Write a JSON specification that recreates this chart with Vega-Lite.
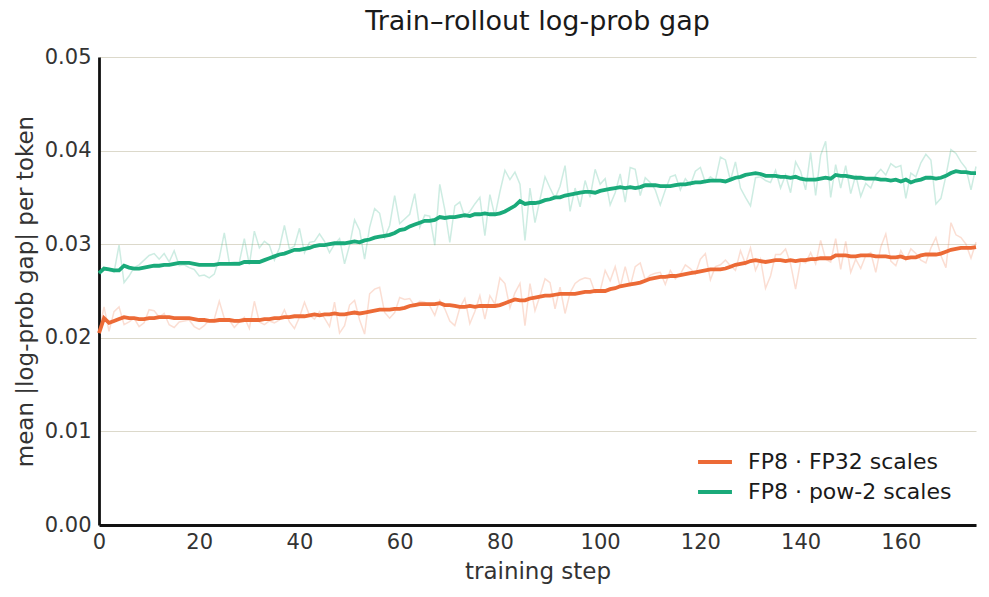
{
  "$schema": "https://vega.github.io/schema/vega-lite/v6.json",
  "description": "Train-rollout log-prob gap, raw and smoothed",
  "autosize": "none",
  "width": 877,
  "height": 468,
  "padding": {"left": 99, "top": 57, "right": 13, "bottom": 72},
  "config": {
    "font": "DejaVu Sans",
    "view": {"stroke": null},
    "axis": {"labelColor": "#333333", "titleColor": "#333333", "titleFontWeight": "normal"}
  },
  "title": {"text": "Train–rollout log-prob gap", "fontSize": 27, "fontWeight": "normal", "color": "#1a1a1a", "offset": 10, "anchor": "middle"},
  "data": {"values": [
    {"step":0,"fp32_raw":0.0206,"fp32_smooth":0.0205,"pow2_raw":0.0268,"pow2_smooth":0.0269},
    {"step":1,"fp32_raw":0.0233,"fp32_smooth":0.0221,"pow2_raw":0.0275,"pow2_smooth":0.0274},
    {"step":2,"fp32_raw":0.0207,"fp32_smooth":0.0216,"pow2_raw":0.0272,"pow2_smooth":0.0273},
    {"step":3,"fp32_raw":0.0228,"fp32_smooth":0.0218,"pow2_raw":0.0270,"pow2_smooth":0.0272},
    {"step":4,"fp32_raw":0.0233,"fp32_smooth":0.0220,"pow2_raw":0.0299,"pow2_smooth":0.0272},
    {"step":5,"fp32_raw":0.0214,"fp32_smooth":0.0222,"pow2_raw":0.0259,"pow2_smooth":0.0277},
    {"step":6,"fp32_raw":0.0217,"fp32_smooth":0.0221,"pow2_raw":0.0266,"pow2_smooth":0.0275},
    {"step":7,"fp32_raw":0.0221,"fp32_smooth":0.0221,"pow2_raw":0.0275,"pow2_smooth":0.0274},
    {"step":8,"fp32_raw":0.0212,"fp32_smooth":0.0220,"pow2_raw":0.0278,"pow2_smooth":0.0274},
    {"step":9,"fp32_raw":0.0216,"fp32_smooth":0.0220,"pow2_raw":0.0283,"pow2_smooth":0.0275},
    {"step":10,"fp32_raw":0.0230,"fp32_smooth":0.0221,"pow2_raw":0.0288,"pow2_smooth":0.0276},
    {"step":11,"fp32_raw":0.0229,"fp32_smooth":0.0221,"pow2_raw":0.0290,"pow2_smooth":0.0277},
    {"step":12,"fp32_raw":0.0222,"fp32_smooth":0.0222,"pow2_raw":0.0284,"pow2_smooth":0.0277},
    {"step":13,"fp32_raw":0.0226,"fp32_smooth":0.0222,"pow2_raw":0.0290,"pow2_smooth":0.0278},
    {"step":14,"fp32_raw":0.0214,"fp32_smooth":0.0222,"pow2_raw":0.0281,"pow2_smooth":0.0278},
    {"step":15,"fp32_raw":0.0211,"fp32_smooth":0.0221,"pow2_raw":0.0293,"pow2_smooth":0.0279},
    {"step":16,"fp32_raw":0.0217,"fp32_smooth":0.0221,"pow2_raw":0.0277,"pow2_smooth":0.0280},
    {"step":17,"fp32_raw":0.0218,"fp32_smooth":0.0221,"pow2_raw":0.0278,"pow2_smooth":0.0280},
    {"step":18,"fp32_raw":0.0219,"fp32_smooth":0.0221,"pow2_raw":0.0275,"pow2_smooth":0.0280},
    {"step":19,"fp32_raw":0.0212,"fp32_smooth":0.0220,"pow2_raw":0.0273,"pow2_smooth":0.0279},
    {"step":20,"fp32_raw":0.0209,"fp32_smooth":0.0219,"pow2_raw":0.0266,"pow2_smooth":0.0278},
    {"step":21,"fp32_raw":0.0213,"fp32_smooth":0.0219,"pow2_raw":0.0267,"pow2_smooth":0.0278},
    {"step":22,"fp32_raw":0.0219,"fp32_smooth":0.0218,"pow2_raw":0.0264,"pow2_smooth":0.0278},
    {"step":23,"fp32_raw":0.0220,"fp32_smooth":0.0218,"pow2_raw":0.0268,"pow2_smooth":0.0278},
    {"step":24,"fp32_raw":0.0239,"fp32_smooth":0.0219,"pow2_raw":0.0285,"pow2_smooth":0.0279},
    {"step":25,"fp32_raw":0.0221,"fp32_smooth":0.0219,"pow2_raw":0.0312,"pow2_smooth":0.0279},
    {"step":26,"fp32_raw":0.0219,"fp32_smooth":0.0219,"pow2_raw":0.0280,"pow2_smooth":0.0279},
    {"step":27,"fp32_raw":0.0211,"fp32_smooth":0.0218,"pow2_raw":0.0281,"pow2_smooth":0.0279},
    {"step":28,"fp32_raw":0.0217,"fp32_smooth":0.0218,"pow2_raw":0.0281,"pow2_smooth":0.0279},
    {"step":29,"fp32_raw":0.0222,"fp32_smooth":0.0219,"pow2_raw":0.0306,"pow2_smooth":0.0281},
    {"step":30,"fp32_raw":0.0210,"fp32_smooth":0.0219,"pow2_raw":0.0278,"pow2_smooth":0.0281},
    {"step":31,"fp32_raw":0.0239,"fp32_smooth":0.0219,"pow2_raw":0.0314,"pow2_smooth":0.0281},
    {"step":32,"fp32_raw":0.0217,"fp32_smooth":0.0219,"pow2_raw":0.0296,"pow2_smooth":0.0281},
    {"step":33,"fp32_raw":0.0214,"fp32_smooth":0.0220,"pow2_raw":0.0303,"pow2_smooth":0.0283},
    {"step":34,"fp32_raw":0.0218,"fp32_smooth":0.0220,"pow2_raw":0.0299,"pow2_smooth":0.0285},
    {"step":35,"fp32_raw":0.0216,"fp32_smooth":0.0221,"pow2_raw":0.0283,"pow2_smooth":0.0287},
    {"step":36,"fp32_raw":0.0219,"fp32_smooth":0.0221,"pow2_raw":0.0296,"pow2_smooth":0.0289},
    {"step":37,"fp32_raw":0.0230,"fp32_smooth":0.0222,"pow2_raw":0.0320,"pow2_smooth":0.0290},
    {"step":38,"fp32_raw":0.0217,"fp32_smooth":0.0222,"pow2_raw":0.0295,"pow2_smooth":0.0292},
    {"step":39,"fp32_raw":0.0210,"fp32_smooth":0.0223,"pow2_raw":0.0298,"pow2_smooth":0.0294},
    {"step":40,"fp32_raw":0.0222,"fp32_smooth":0.0223,"pow2_raw":0.0317,"pow2_smooth":0.0294},
    {"step":41,"fp32_raw":0.0238,"fp32_smooth":0.0223,"pow2_raw":0.0291,"pow2_smooth":0.0295},
    {"step":42,"fp32_raw":0.0224,"fp32_smooth":0.0224,"pow2_raw":0.0302,"pow2_smooth":0.0296},
    {"step":43,"fp32_raw":0.0220,"fp32_smooth":0.0225,"pow2_raw":0.0303,"pow2_smooth":0.0298},
    {"step":44,"fp32_raw":0.0228,"fp32_smooth":0.0224,"pow2_raw":0.0311,"pow2_smooth":0.0299},
    {"step":45,"fp32_raw":0.0221,"fp32_smooth":0.0225,"pow2_raw":0.0303,"pow2_smooth":0.0299},
    {"step":46,"fp32_raw":0.0212,"fp32_smooth":0.0225,"pow2_raw":0.0291,"pow2_smooth":0.0300},
    {"step":47,"fp32_raw":0.0238,"fp32_smooth":0.0226,"pow2_raw":0.0300,"pow2_smooth":0.0301},
    {"step":48,"fp32_raw":0.0205,"fp32_smooth":0.0225,"pow2_raw":0.0306,"pow2_smooth":0.0301},
    {"step":49,"fp32_raw":0.0213,"fp32_smooth":0.0225,"pow2_raw":0.0279,"pow2_smooth":0.0301},
    {"step":50,"fp32_raw":0.0235,"fp32_smooth":0.0226,"pow2_raw":0.0299,"pow2_smooth":0.0302},
    {"step":51,"fp32_raw":0.0240,"fp32_smooth":0.0227,"pow2_raw":0.0326,"pow2_smooth":0.0303},
    {"step":52,"fp32_raw":0.0219,"fp32_smooth":0.0226,"pow2_raw":0.0315,"pow2_smooth":0.0302},
    {"step":53,"fp32_raw":0.0204,"fp32_smooth":0.0227,"pow2_raw":0.0284,"pow2_smooth":0.0304},
    {"step":54,"fp32_raw":0.0247,"fp32_smooth":0.0228,"pow2_raw":0.0318,"pow2_smooth":0.0305},
    {"step":55,"fp32_raw":0.0252,"fp32_smooth":0.0229,"pow2_raw":0.0338,"pow2_smooth":0.0307},
    {"step":56,"fp32_raw":0.0254,"fp32_smooth":0.0230,"pow2_raw":0.0333,"pow2_smooth":0.0308},
    {"step":57,"fp32_raw":0.0227,"fp32_smooth":0.0230,"pow2_raw":0.0307,"pow2_smooth":0.0309},
    {"step":58,"fp32_raw":0.0221,"fp32_smooth":0.0230,"pow2_raw":0.0320,"pow2_smooth":0.0310},
    {"step":59,"fp32_raw":0.0227,"fp32_smooth":0.0231,"pow2_raw":0.0352,"pow2_smooth":0.0312},
    {"step":60,"fp32_raw":0.0243,"fp32_smooth":0.0231,"pow2_raw":0.0322,"pow2_smooth":0.0315},
    {"step":61,"fp32_raw":0.0241,"fp32_smooth":0.0232,"pow2_raw":0.0327,"pow2_smooth":0.0316},
    {"step":62,"fp32_raw":0.0242,"fp32_smooth":0.0234,"pow2_raw":0.0332,"pow2_smooth":0.0319},
    {"step":63,"fp32_raw":0.0234,"fp32_smooth":0.0235,"pow2_raw":0.0354,"pow2_smooth":0.0321},
    {"step":64,"fp32_raw":0.0239,"fp32_smooth":0.0236,"pow2_raw":0.0318,"pow2_smooth":0.0323},
    {"step":65,"fp32_raw":0.0238,"fp32_smooth":0.0236,"pow2_raw":0.0331,"pow2_smooth":0.0325},
    {"step":66,"fp32_raw":0.0234,"fp32_smooth":0.0236,"pow2_raw":0.0330,"pow2_smooth":0.0325},
    {"step":67,"fp32_raw":0.0224,"fp32_smooth":0.0236,"pow2_raw":0.0299,"pow2_smooth":0.0326},
    {"step":68,"fp32_raw":0.0240,"fp32_smooth":0.0237,"pow2_raw":0.0364,"pow2_smooth":0.0329},
    {"step":69,"fp32_raw":0.0231,"fp32_smooth":0.0235,"pow2_raw":0.0337,"pow2_smooth":0.0328},
    {"step":70,"fp32_raw":0.0218,"fp32_smooth":0.0235,"pow2_raw":0.0302,"pow2_smooth":0.0329},
    {"step":71,"fp32_raw":0.0213,"fp32_smooth":0.0234,"pow2_raw":0.0341,"pow2_smooth":0.0329},
    {"step":72,"fp32_raw":0.0232,"fp32_smooth":0.0233,"pow2_raw":0.0345,"pow2_smooth":0.0330},
    {"step":73,"fp32_raw":0.0242,"fp32_smooth":0.0233,"pow2_raw":0.0329,"pow2_smooth":0.0331},
    {"step":74,"fp32_raw":0.0215,"fp32_smooth":0.0234,"pow2_raw":0.0335,"pow2_smooth":0.0330},
    {"step":75,"fp32_raw":0.0228,"fp32_smooth":0.0233,"pow2_raw":0.0343,"pow2_smooth":0.0332},
    {"step":76,"fp32_raw":0.0245,"fp32_smooth":0.0234,"pow2_raw":0.0350,"pow2_smooth":0.0332},
    {"step":77,"fp32_raw":0.0220,"fp32_smooth":0.0234,"pow2_raw":0.0309,"pow2_smooth":0.0333},
    {"step":78,"fp32_raw":0.0245,"fp32_smooth":0.0234,"pow2_raw":0.0353,"pow2_smooth":0.0332},
    {"step":79,"fp32_raw":0.0236,"fp32_smooth":0.0234,"pow2_raw":0.0330,"pow2_smooth":0.0332},
    {"step":80,"fp32_raw":0.0264,"fp32_smooth":0.0235,"pow2_raw":0.0356,"pow2_smooth":0.0333},
    {"step":81,"fp32_raw":0.0258,"fp32_smooth":0.0237,"pow2_raw":0.0379,"pow2_smooth":0.0335},
    {"step":82,"fp32_raw":0.0232,"fp32_smooth":0.0239,"pow2_raw":0.0369,"pow2_smooth":0.0338},
    {"step":83,"fp32_raw":0.0248,"fp32_smooth":0.0241,"pow2_raw":0.0377,"pow2_smooth":0.0341},
    {"step":84,"fp32_raw":0.0258,"fp32_smooth":0.0240,"pow2_raw":0.0364,"pow2_smooth":0.0346},
    {"step":85,"fp32_raw":0.0213,"fp32_smooth":0.0240,"pow2_raw":0.0304,"pow2_smooth":0.0343},
    {"step":86,"fp32_raw":0.0258,"fp32_smooth":0.0242,"pow2_raw":0.0360,"pow2_smooth":0.0344},
    {"step":87,"fp32_raw":0.0229,"fp32_smooth":0.0243,"pow2_raw":0.0323,"pow2_smooth":0.0344},
    {"step":88,"fp32_raw":0.0245,"fp32_smooth":0.0244,"pow2_raw":0.0348,"pow2_smooth":0.0345},
    {"step":89,"fp32_raw":0.0263,"fp32_smooth":0.0245,"pow2_raw":0.0372,"pow2_smooth":0.0347},
    {"step":90,"fp32_raw":0.0259,"fp32_smooth":0.0245,"pow2_raw":0.0360,"pow2_smooth":0.0348},
    {"step":91,"fp32_raw":0.0231,"fp32_smooth":0.0246,"pow2_raw":0.0349,"pow2_smooth":0.0350},
    {"step":92,"fp32_raw":0.0254,"fp32_smooth":0.0247,"pow2_raw":0.0362,"pow2_smooth":0.0350},
    {"step":93,"fp32_raw":0.0226,"fp32_smooth":0.0247,"pow2_raw":0.0384,"pow2_smooth":0.0352},
    {"step":94,"fp32_raw":0.0248,"fp32_smooth":0.0247,"pow2_raw":0.0335,"pow2_smooth":0.0353},
    {"step":95,"fp32_raw":0.0258,"fp32_smooth":0.0247,"pow2_raw":0.0360,"pow2_smooth":0.0354},
    {"step":96,"fp32_raw":0.0262,"fp32_smooth":0.0248,"pow2_raw":0.0340,"pow2_smooth":0.0355},
    {"step":97,"fp32_raw":0.0264,"fp32_smooth":0.0249,"pow2_raw":0.0368,"pow2_smooth":0.0356},
    {"step":98,"fp32_raw":0.0263,"fp32_smooth":0.0249,"pow2_raw":0.0350,"pow2_smooth":0.0356},
    {"step":99,"fp32_raw":0.0248,"fp32_smooth":0.0250,"pow2_raw":0.0380,"pow2_smooth":0.0355},
    {"step":100,"fp32_raw":0.0250,"fp32_smooth":0.0250,"pow2_raw":0.0364,"pow2_smooth":0.0357},
    {"step":101,"fp32_raw":0.0272,"fp32_smooth":0.0250,"pow2_raw":0.0370,"pow2_smooth":0.0358},
    {"step":102,"fp32_raw":0.0261,"fp32_smooth":0.0252,"pow2_raw":0.0342,"pow2_smooth":0.0359},
    {"step":103,"fp32_raw":0.0276,"fp32_smooth":0.0253,"pow2_raw":0.0355,"pow2_smooth":0.0360},
    {"step":104,"fp32_raw":0.0254,"fp32_smooth":0.0255,"pow2_raw":0.0375,"pow2_smooth":0.0361},
    {"step":105,"fp32_raw":0.0276,"fp32_smooth":0.0256,"pow2_raw":0.0345,"pow2_smooth":0.0360},
    {"step":106,"fp32_raw":0.0255,"fp32_smooth":0.0257,"pow2_raw":0.0382,"pow2_smooth":0.0361},
    {"step":107,"fp32_raw":0.0276,"fp32_smooth":0.0258,"pow2_raw":0.0380,"pow2_smooth":0.0360},
    {"step":108,"fp32_raw":0.0280,"fp32_smooth":0.0259,"pow2_raw":0.0352,"pow2_smooth":0.0361},
    {"step":109,"fp32_raw":0.0262,"fp32_smooth":0.0261,"pow2_raw":0.0371,"pow2_smooth":0.0363},
    {"step":110,"fp32_raw":0.0267,"fp32_smooth":0.0263,"pow2_raw":0.0366,"pow2_smooth":0.0363},
    {"step":111,"fp32_raw":0.0269,"fp32_smooth":0.0264,"pow2_raw":0.0358,"pow2_smooth":0.0363},
    {"step":112,"fp32_raw":0.0270,"fp32_smooth":0.0265,"pow2_raw":0.0342,"pow2_smooth":0.0362},
    {"step":113,"fp32_raw":0.0257,"fp32_smooth":0.0265,"pow2_raw":0.0358,"pow2_smooth":0.0362},
    {"step":114,"fp32_raw":0.0272,"fp32_smooth":0.0266,"pow2_raw":0.0372,"pow2_smooth":0.0362},
    {"step":115,"fp32_raw":0.0263,"fp32_smooth":0.0266,"pow2_raw":0.0374,"pow2_smooth":0.0363},
    {"step":116,"fp32_raw":0.0268,"fp32_smooth":0.0267,"pow2_raw":0.0358,"pow2_smooth":0.0364},
    {"step":117,"fp32_raw":0.0278,"fp32_smooth":0.0268,"pow2_raw":0.0370,"pow2_smooth":0.0364},
    {"step":118,"fp32_raw":0.0274,"fp32_smooth":0.0269,"pow2_raw":0.0363,"pow2_smooth":0.0365},
    {"step":119,"fp32_raw":0.0268,"fp32_smooth":0.0270,"pow2_raw":0.0378,"pow2_smooth":0.0366},
    {"step":120,"fp32_raw":0.0284,"fp32_smooth":0.0271,"pow2_raw":0.0382,"pow2_smooth":0.0366},
    {"step":121,"fp32_raw":0.0290,"fp32_smooth":0.0272,"pow2_raw":0.0366,"pow2_smooth":0.0367},
    {"step":122,"fp32_raw":0.0262,"fp32_smooth":0.0273,"pow2_raw":0.0372,"pow2_smooth":0.0368},
    {"step":123,"fp32_raw":0.0276,"fp32_smooth":0.0273,"pow2_raw":0.0368,"pow2_smooth":0.0368},
    {"step":124,"fp32_raw":0.0278,"fp32_smooth":0.0273,"pow2_raw":0.0393,"pow2_smooth":0.0368},
    {"step":125,"fp32_raw":0.0283,"fp32_smooth":0.0274,"pow2_raw":0.0390,"pow2_smooth":0.0367},
    {"step":126,"fp32_raw":0.0277,"fp32_smooth":0.0276,"pow2_raw":0.0368,"pow2_smooth":0.0369},
    {"step":127,"fp32_raw":0.0272,"fp32_smooth":0.0278,"pow2_raw":0.0388,"pow2_smooth":0.0371},
    {"step":128,"fp32_raw":0.0293,"fp32_smooth":0.0279,"pow2_raw":0.0360,"pow2_smooth":0.0372},
    {"step":129,"fp32_raw":0.0279,"fp32_smooth":0.0280,"pow2_raw":0.0350,"pow2_smooth":0.0374},
    {"step":130,"fp32_raw":0.0296,"fp32_smooth":0.0282,"pow2_raw":0.0341,"pow2_smooth":0.0375},
    {"step":131,"fp32_raw":0.0272,"fp32_smooth":0.0283,"pow2_raw":0.0371,"pow2_smooth":0.0376},
    {"step":132,"fp32_raw":0.0284,"fp32_smooth":0.0282,"pow2_raw":0.0372,"pow2_smooth":0.0375},
    {"step":133,"fp32_raw":0.0253,"fp32_smooth":0.0281,"pow2_raw":0.0368,"pow2_smooth":0.0373},
    {"step":134,"fp32_raw":0.0266,"fp32_smooth":0.0282,"pow2_raw":0.0366,"pow2_smooth":0.0373},
    {"step":135,"fp32_raw":0.0289,"fp32_smooth":0.0283,"pow2_raw":0.0379,"pow2_smooth":0.0373},
    {"step":136,"fp32_raw":0.0289,"fp32_smooth":0.0283,"pow2_raw":0.0360,"pow2_smooth":0.0372},
    {"step":137,"fp32_raw":0.0295,"fp32_smooth":0.0282,"pow2_raw":0.0374,"pow2_smooth":0.0372},
    {"step":138,"fp32_raw":0.0279,"fp32_smooth":0.0283,"pow2_raw":0.0355,"pow2_smooth":0.0371},
    {"step":139,"fp32_raw":0.0252,"fp32_smooth":0.0282,"pow2_raw":0.0388,"pow2_smooth":0.0372},
    {"step":140,"fp32_raw":0.0282,"fp32_smooth":0.0283,"pow2_raw":0.0378,"pow2_smooth":0.0370},
    {"step":141,"fp32_raw":0.0280,"fp32_smooth":0.0283,"pow2_raw":0.0358,"pow2_smooth":0.0369},
    {"step":142,"fp32_raw":0.0291,"fp32_smooth":0.0284,"pow2_raw":0.0398,"pow2_smooth":0.0369},
    {"step":143,"fp32_raw":0.0279,"fp32_smooth":0.0284,"pow2_raw":0.0352,"pow2_smooth":0.0369},
    {"step":144,"fp32_raw":0.0304,"fp32_smooth":0.0285,"pow2_raw":0.0395,"pow2_smooth":0.0370},
    {"step":145,"fp32_raw":0.0284,"fp32_smooth":0.0285,"pow2_raw":0.0410,"pow2_smooth":0.0371},
    {"step":146,"fp32_raw":0.0281,"fp32_smooth":0.0285,"pow2_raw":0.0350,"pow2_smooth":0.0370},
    {"step":147,"fp32_raw":0.0306,"fp32_smooth":0.0288,"pow2_raw":0.0385,"pow2_smooth":0.0374},
    {"step":148,"fp32_raw":0.0273,"fp32_smooth":0.0288,"pow2_raw":0.0360,"pow2_smooth":0.0373},
    {"step":149,"fp32_raw":0.0303,"fp32_smooth":0.0288,"pow2_raw":0.0384,"pow2_smooth":0.0373},
    {"step":150,"fp32_raw":0.0270,"fp32_smooth":0.0287,"pow2_raw":0.0354,"pow2_smooth":0.0372},
    {"step":151,"fp32_raw":0.0284,"fp32_smooth":0.0287,"pow2_raw":0.0374,"pow2_smooth":0.0371},
    {"step":152,"fp32_raw":0.0274,"fp32_smooth":0.0288,"pow2_raw":0.0351,"pow2_smooth":0.0371},
    {"step":153,"fp32_raw":0.0288,"fp32_smooth":0.0288,"pow2_raw":0.0365,"pow2_smooth":0.0370},
    {"step":154,"fp32_raw":0.0291,"fp32_smooth":0.0288,"pow2_raw":0.0360,"pow2_smooth":0.0370},
    {"step":155,"fp32_raw":0.0270,"fp32_smooth":0.0287,"pow2_raw":0.0374,"pow2_smooth":0.0370},
    {"step":156,"fp32_raw":0.0297,"fp32_smooth":0.0287,"pow2_raw":0.0380,"pow2_smooth":0.0369},
    {"step":157,"fp32_raw":0.0311,"fp32_smooth":0.0287,"pow2_raw":0.0374,"pow2_smooth":0.0369},
    {"step":158,"fp32_raw":0.0282,"fp32_smooth":0.0286,"pow2_raw":0.0386,"pow2_smooth":0.0368},
    {"step":159,"fp32_raw":0.0277,"fp32_smooth":0.0286,"pow2_raw":0.0382,"pow2_smooth":0.0369},
    {"step":160,"fp32_raw":0.0293,"fp32_smooth":0.0287,"pow2_raw":0.0384,"pow2_smooth":0.0367},
    {"step":161,"fp32_raw":0.0283,"fp32_smooth":0.0285,"pow2_raw":0.0349,"pow2_smooth":0.0369},
    {"step":162,"fp32_raw":0.0295,"fp32_smooth":0.0286,"pow2_raw":0.0376,"pow2_smooth":0.0366},
    {"step":163,"fp32_raw":0.0290,"fp32_smooth":0.0286,"pow2_raw":0.0372,"pow2_smooth":0.0368},
    {"step":164,"fp32_raw":0.0283,"fp32_smooth":0.0288,"pow2_raw":0.0387,"pow2_smooth":0.0369},
    {"step":165,"fp32_raw":0.0280,"fp32_smooth":0.0289,"pow2_raw":0.0396,"pow2_smooth":0.0371},
    {"step":166,"fp32_raw":0.0296,"fp32_smooth":0.0289,"pow2_raw":0.0390,"pow2_smooth":0.0371},
    {"step":167,"fp32_raw":0.0307,"fp32_smooth":0.0289,"pow2_raw":0.0343,"pow2_smooth":0.0370},
    {"step":168,"fp32_raw":0.0288,"fp32_smooth":0.0290,"pow2_raw":0.0349,"pow2_smooth":0.0371},
    {"step":169,"fp32_raw":0.0275,"fp32_smooth":0.0292,"pow2_raw":0.0373,"pow2_smooth":0.0373},
    {"step":170,"fp32_raw":0.0323,"fp32_smooth":0.0294,"pow2_raw":0.0401,"pow2_smooth":0.0376},
    {"step":171,"fp32_raw":0.0310,"fp32_smooth":0.0295,"pow2_raw":0.0397,"pow2_smooth":0.0378},
    {"step":172,"fp32_raw":0.0307,"fp32_smooth":0.0296,"pow2_raw":0.0388,"pow2_smooth":0.0377},
    {"step":173,"fp32_raw":0.0300,"fp32_smooth":0.0296,"pow2_raw":0.0381,"pow2_smooth":0.0377},
    {"step":174,"fp32_raw":0.0285,"fp32_smooth":0.0296,"pow2_raw":0.0358,"pow2_smooth":0.0376},
    {"step":175,"fp32_raw":0.0302,"fp32_smooth":0.0297,"pow2_raw":0.0383,"pow2_smooth":0.0376}
  ]},
  "encoding": {
    "x": {
      "field": "step",
      "type": "quantitative",
      "scale": {"domain": [0, 175], "nice": false, "zero": false},
      "axis": {
        "title": "training step",
        "values": [0, 20, 40, 60, 80, 100, 120, 140, 160],
        "grid": false,
        "ticks": false,
        "labelFlush": false,
        "domainColor": "#111111",
        "domainWidth": 2.8,
        "labelFontSize": 21,
        "labelPadding": 6,
        "titleFontSize": 23,
        "titlePadding": 8
      }
    },
    "y": {
      "field": "value",
      "type": "quantitative",
      "scale": {"domain": [0, 0.05], "nice": false},
      "axis": {
        "title": "mean |log-prob gap| per token",
        "values": [0, 0.01, 0.02, 0.03, 0.04, 0.05],
        "format": ".2f",
        "grid": true,
        "gridColor": "#dcd9cb",
        "gridWidth": 1.2,
        "ticks": false,
        "labelFlush": false,
        "domainColor": "#111111",
        "domainWidth": 2.8,
        "labelFontSize": 21,
        "labelPadding": 8,
        "titleFontSize": 23,
        "titlePadding": 7
      }
    }
  },
  "layer": [
    {
      "transform": [{"fold": ["fp32_raw", "pow2_raw"], "as": ["series", "value"]}],
      "mark": {"type": "line", "strokeWidth": 1.5, "opacity": 0.22},
      "encoding": {
        "color": {
          "field": "series",
          "type": "nominal",
          "scale": {"domain": ["fp32_raw", "pow2_raw"], "range": ["#ec6a36", "#1aaa7a"]},
          "legend": null
        }
      }
    },
    {
      "transform": [{"fold": ["fp32_smooth", "pow2_smooth"], "as": ["series", "value"]}],
      "mark": {"type": "line", "strokeWidth": 3.8},
      "encoding": {
        "color": {
          "field": "series",
          "type": "nominal",
          "scale": {"domain": ["fp32_smooth", "pow2_smooth"], "range": ["#ec6a36", "#1aaa7a"]},
          "legend": {
            "title": null,
            "orient": "none",
            "legendX": 597,
            "legendY": 386,
            "symbolType": "stroke",
            "symbolStrokeWidth": 3.8,
            "symbolSize": 1150,
            "labelFontSize": 22,
            "labelLimit": 400,
            "labelOffset": 14,
            "labelColor": "#1a1a1a",
            "rowPadding": 0,
            "labelExpr": "datum.label == 'fp32_smooth' ? 'FP8 · FP32 scales' : 'FP8 · pow-2 scales'"
          }
        }
      }
    }
  ],
  "resolve": {"scale": {"color": "independent"}}
}
